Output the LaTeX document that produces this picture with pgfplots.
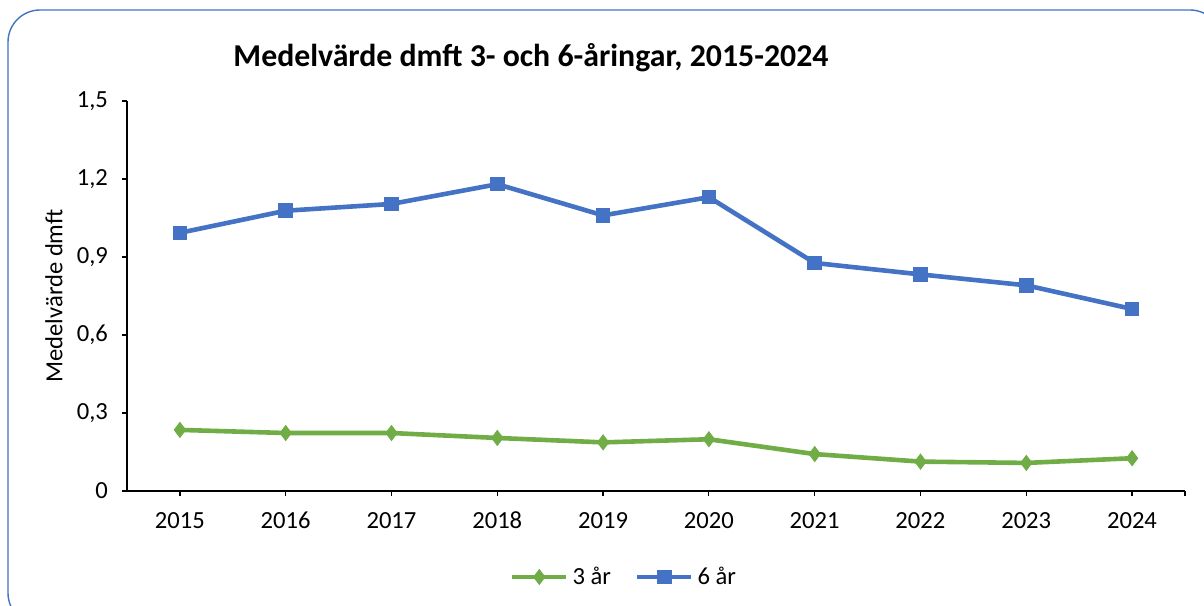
\documentclass[border=0pt]{standalone}
\usepackage{pgfplots}
\pgfplotsset{compat=1.18}
\usepackage{fontspec}
\setmainfont{Carlito}
\definecolor{sixblue}{HTML}{4472C4}
\definecolor{threegreen}{HTML}{70AD47}
\definecolor{framecol}{HTML}{4472C4}
\begin{document}
\begin{tikzpicture}
\begin{scope}[x=0.5pt,y=0.5pt]
\useasboundingbox (0,0) rectangle (1204,605);
\begin{scope}
\clip (0,0) rectangle (1204,605);
\draw[framecol, line width=0.7pt, rounded corners=16pt] (8,-20) rectangle (1222,595);
\end{scope}
\node[anchor=base, font=\fontsize{15.9}{18}\selectfont\bfseries] at (531,538) {Medelvärde dmft 3- och 6-åringar, 2015-2024};
\end{scope}
\begin{axis}[
  at={(63.5pt,57pt)}, anchor=south west,
  scale only axis, width=529pt, height=195pt,
  xmin=2014.5, xmax=2024.5, ymin=0, ymax=1.5,
  axis x line*=bottom, axis y line*=left,
  axis line style={black, line width=0.6pt, -},
  tick style={black, line width=0.6pt},
  tick align=outside, major tick length=2.5pt,
  xtick={2015,...,2024},
  xticklabels={2015,2016,2017,2018,2019,2020,2021,2022,2023,2024},
  extra x ticks={2024.5}, extra x tick labels={},
  ytick={0,0.3,0.6,0.9,1.2,1.5},
  yticklabel style={xshift=-3.5pt, /pgf/number format/.cd, fixed, precision=1, use comma},
  /pgf/number format/assume math mode=true,
  ticklabel style={font=\fontsize{12.3}{14}\selectfont},
  xticklabel style={yshift=-4.5pt},
  ylabel={Medelvärde dmft},
  ylabel style={at={(axis description cs:-0.069,0.5)}, anchor=center, font=\fontsize{12.3}{14}\selectfont},
  legend columns=2,
  legend style={at={(0.4707,-0.2205)}, anchor=center, draw=none, fill=none,
    font=\fontsize{12.3}{14}\selectfont, inner sep=0pt,
    /tikz/every even column/.append style={column sep=10pt}},
  legend image code/.code={\draw[mark repeat=2,mark phase=2,#1] plot coordinates {(0pt,0pt)(13.5pt,0pt)(27pt,0pt)};},
  clip=false,
]
\addplot[threegreen, line width=2.3pt, mark=diamond*, mark size=3.7pt, mark options={solid, fill=threegreen, line width=0.5pt}]
coordinates {(2015,0.235)(2016,0.223)(2017,0.223)(2018,0.204)(2019,0.187)(2020,0.199)(2021,0.142)(2022,0.113)(2023,0.108)(2024,0.126)};
\addlegendentry{3 år}
\addplot[sixblue, line width=2.3pt, mark=square*, mark size=3.4pt, mark options={solid, fill=sixblue, line width=0.5pt}]
coordinates {(2015,0.993)(2016,1.078)(2017,1.104)(2018,1.180)(2019,1.060)(2020,1.130)(2021,0.877)(2022,0.833)(2023,0.791)(2024,0.700)};
\addlegendentry{6 år}
\end{axis}
\end{tikzpicture}
\end{document}
